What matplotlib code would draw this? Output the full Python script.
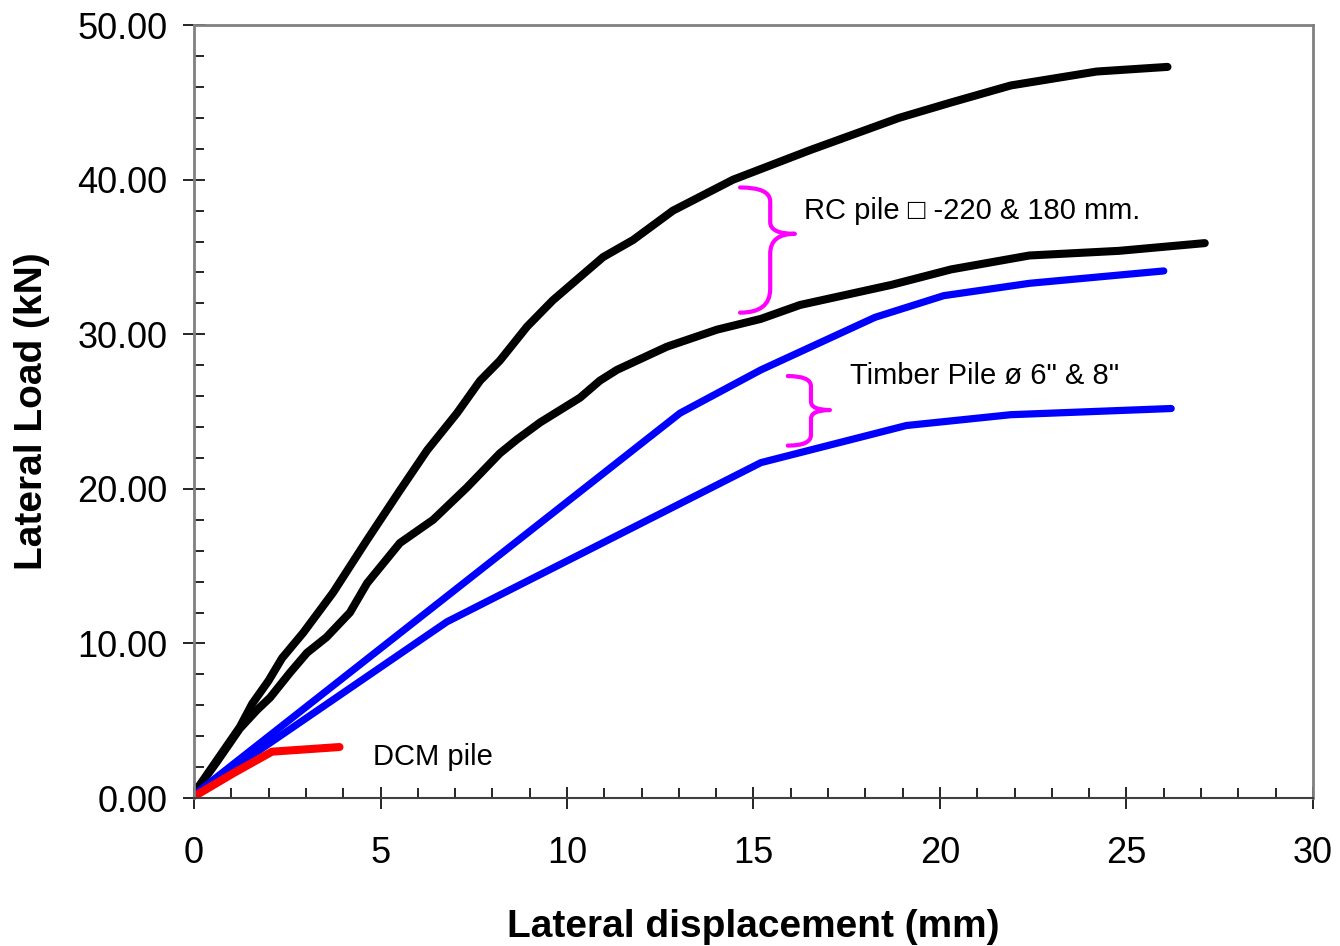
import numpy as np
import matplotlib
matplotlib.use('Agg')
import matplotlib.pyplot as plt
from matplotlib.path import Path
from matplotlib.patches import PathPatch

plt.rcParams['font.family'] = ['Liberation Sans', 'DejaVu Sans']

# data
rc220_x = [0, 0.6, 1.23, 1.56, 2.0, 2.36, 2.93, 3.73, 4.64, 5.52, 6.25, 7.05, 7.67, 8.2, 8.93,
           9.62, 10.97, 11.77, 12.84, 14.45, 16.5, 18.9, 20.3, 21.9, 24.2, 26.1]
rc220_y = [0.3, 2.4, 4.6, 6.1, 7.6, 9.05, 10.7, 13.3, 16.7, 19.9, 22.5, 24.9, 27.0, 28.3, 30.5,
           32.2, 35.0, 36.1, 38.0, 40.0, 41.9, 44.0, 45.0, 46.1, 47.0, 47.3]

rc180_x = [0, 0.6, 1.23, 1.69, 2.04, 2.57, 3.03, 3.55, 4.18, 4.64, 5.52, 6.41, 7.32, 8.2, 8.66,
           9.28, 10.35, 10.88, 11.34, 12.68, 14.02, 15.2, 16.25, 18.7, 20.3, 22.4, 24.8, 27.1]
rc180_y = [0.3, 2.3, 4.5, 5.7, 6.5, 8.1, 9.4, 10.4, 12.0, 13.9, 16.5, 18.0, 20.1, 22.3, 23.2,
           24.3, 25.9, 27.0, 27.7, 29.2, 30.3, 31.0, 31.9, 33.2, 34.2, 35.1, 35.4, 35.9]

timber8_x = [0, 13.03, 15.2, 18.26, 20.1, 22.4, 26.0]
timber8_y = [0.2, 24.9, 27.7, 31.1, 32.5, 33.3, 34.1]

timber6_x = [0, 6.78, 15.2, 19.1, 21.9, 26.2]
timber6_y = [0.2, 11.4, 21.7, 24.1, 24.8, 25.2]

dcm_x = [0, 1.05, 2.09, 3.9]
dcm_y = [0.1, 1.6, 3.0, 3.3]

# annotations: label, text position, brace (x_left, x_tip, y_top, y_tip, y_bottom)
rc_label = 'RC pile \u25a1 -220 & 180 mm.'
timber_label = 'Timber Pile \u00f8 6" & 8"'
dcm_label = 'DCM pile'
rc_brace = (14.64, 16.11, 39.5, 36.5, 31.4)
timber_brace = (15.92, 17.05, 27.3, 25.1, 22.8)


def brace(ax, x0, x1, ytop, ytip, ybot):
    # curly brace pointing right, drawn as a bezier path
    xm = x0 + (x1 - x0) * 0.55
    h1 = ytop - ytip
    h2 = ytip - ybot
    verts = [
        (x0, ytop),
        (xm, ytop), (xm, ytop - 0.3 * h1),
        (xm, ytip + 0.25 * h1),
        (xm, ytip), (x1, ytip),
        (xm, ytip), (xm, ytip - 0.25 * h2),
        (xm, ybot + 0.3 * h2),
        (xm, ybot), (x0, ybot),
    ]
    codes = [Path.MOVETO,
             Path.CURVE3, Path.CURVE3,
             Path.LINETO,
             Path.CURVE3, Path.CURVE3,
             Path.CURVE3, Path.CURVE3,
             Path.LINETO,
             Path.CURVE3, Path.CURVE3]
    ax.add_patch(PathPatch(Path(verts, codes), fill=False, edgecolor='#ff00ff',
                           lw=3, capstyle='round', joinstyle='round'))


fig = plt.figure(figsize=(13.4, 9.46), dpi=100)
ax = fig.add_axes([0.1448, 0.1564, 0.835, 0.817])

ax.plot(rc220_x, rc220_y, color='black', lw=5.8, solid_capstyle='round', solid_joinstyle='round')
ax.plot(rc180_x, rc180_y, color='black', lw=5.8, solid_capstyle='round', solid_joinstyle='round')
ax.plot(timber8_x, timber8_y, color='#0000ff', lw=5.2, solid_capstyle='round')
ax.plot(timber6_x, timber6_y, color='#0000ff', lw=5.2, solid_capstyle='round')
ax.plot(dcm_x, dcm_y, color='#ff0000', lw=5.8, solid_capstyle='round')

brace(ax, *rc_brace)
brace(ax, *timber_brace)
ax.text(16.35, 38.0, rc_label, fontsize=21, va='center', ha='left')
ax.text(17.6, 27.3, timber_label, fontsize=21, va='center', ha='left')
ax.text(4.8, 2.65, dcm_label, fontsize=21, va='center', ha='left')

ax.set_xlim(0, 30)
ax.set_ylim(0, 50)
ax.set_xticks(np.arange(0, 31, 5))
ax.set_xticks(np.arange(0, 31, 1), minor=True)
ax.set_yticks(np.arange(0, 51, 10))
ax.set_yticks(np.arange(0, 51, 2), minor=True)
ax.yaxis.set_major_formatter(plt.FormatStrFormatter('%.2f'))
ax.tick_params(which='major', direction='inout', length=16, width=1.2, labelsize=26)
ax.tick_params(which='minor', direction='in', length=7, width=1.2)
ax.tick_params(axis='x', which='major', pad=19)
ax.tick_params(axis='y', which='major', pad=11)

for s in ['top', 'right', 'left']:
    ax.spines[s].set_color('#808080')
    ax.spines[s].set_linewidth(2)
ax.spines['bottom'].set_color('#404040')
ax.spines['bottom'].set_linewidth(1.5)

ax.set_xlabel('Lateral displacement (mm)', fontsize=28, fontweight='bold', labelpad=28)
ax.set_ylabel('Lateral Load (kN)', fontsize=28, fontweight='bold', labelpad=20)

fig.savefig('out.png', dpi=100)
